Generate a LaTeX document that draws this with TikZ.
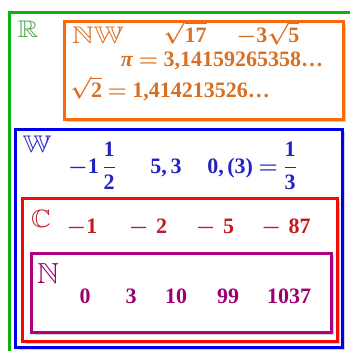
\RequirePackage{fix-cm}
\documentclass[tikz,border=0pt]{standalone}
\usepackage{amsmath,amssymb}
\usepackage{fontspec}
\setmainfont{Liberation Serif}
\usepackage{tikz}

\definecolor{grbox}{RGB}{10,180,10}
\definecolor{grtxt}{RGB}{70,160,70}
\definecolor{orbox}{RGB}{250,105,10}
\definecolor{ortxt}{RGB}{215,112,35}
\definecolor{blbox}{RGB}{0,0,240}
\definecolor{bltxt}{RGB}{35,35,195}
\definecolor{rdbox}{RGB}{240,10,10}
\definecolor{rdtxt}{RGB}{195,25,35}
\definecolor{pubox}{RGB}{175,0,130}
\definecolor{putxt}{RGB}{155,0,115}

% framed set: colour, x1, y1, x2, y2
\newcommand{\setframe}[5]{%
  \draw[shade] (#4+2.2,#3+3) -- (#4+2.2,#5+2.2) -- (#2+3,#5+2.2);
  \draw[frame, #1] (#2,#3) rectangle (#4,#5);}
\newcommand{\bb}[2][1.2]{\scalebox{#1}[1]{$\mathbb{#2}$}}
\newcommand{\mi}{$-$}

\begin{document}
\begin{tikzpicture}[
    x=1pt, y=-1pt,
    frame/.style   = {line width=3pt},
    shade/.style   = {draw=black!18, line width=1.4pt},
    setname/.style = {anchor=base, inner sep=0pt, font=\fontsize{24}{28}\selectfont},
    num/.style     = {anchor=base, inner sep=0pt, font=\fontsize{22}{26}\selectfont\bfseries\boldmath}
]
\useasboundingbox (0,0) rectangle (349,351);

% Frames, outer to inner
\draw[frame, grbox] (9,12) rectangle (370,370);
\setframe{orbox}{64}{21}{343}{119}
\setframe{blbox}{15}{129}{342}{347}
\setframe{rdbox}{22}{198}{337}{341}
\setframe{pubox}{31}{253}{331}{332}

% Real
\node[setname, grtxt] (R) at (28,37) {\bb{R}};

% Irrational
\node[setname, ortxt] (NW) at (98,43) {\bb[1.25]{NW}};
\node[num, ortxt] (sq17) at (185,42) {$\sqrt{\text{17}}$};
\node[num, ortxt] (sq5)  at (268,42) {\mi3$\sqrt{\text{5}}$};
\node[num, ortxt] (pi)   at (222,66) {\textit{π} $=$ 3,14159265358…};
\node[num, ortxt] (sq2)  at (170,97) {$\sqrt{\text{2}}$ $=$ 1,414213526…};

% Rational
\node[setname, bltxt] (W) at (37,152) {\bb{W}};
\node[num, bltxt] (mixed) at (92,173)  {\mi1\,$\dfrac{\text{1}}{\text{2}}$};
\node[num, bltxt] (dec)   at (166,173) {5,\,3};
\node[num, bltxt] (per)   at (252,173) {0,\,(3) $=$ $\dfrac{\text{1}}{\text{3}}$};

% Integers
\node[setname, rdtxt, font=\fontsize{25}{29}\selectfont] (C) at (41,227) {\bb[1.1]{C}};
\node[num, rdtxt] (m1)  at (82,233)  {\mi1};
\node[num, rdtxt] (m2)  at (148,233) {\mi\,\,2};
\node[num, rdtxt] (m5)  at (215,233) {\mi\,\,5};
\node[num, rdtxt] (m87) at (286,233) {\mi\,\,87};

% Naturals
\node[setname, putxt, font=\fontsize{29}{33}\selectfont] (N) at (48,283) {\bb[1.05]{N}};
\node[num, putxt] (n0)    at (85,303)  {0};
\node[num, putxt] (n3)    at (131,303) {3};
\node[num, putxt] (n10)   at (176,303) {10};
\node[num, putxt] (n99)   at (228,303) {99};
\node[num, putxt] (n1037) at (289,303) {1037};
\end{tikzpicture}
\end{document}
